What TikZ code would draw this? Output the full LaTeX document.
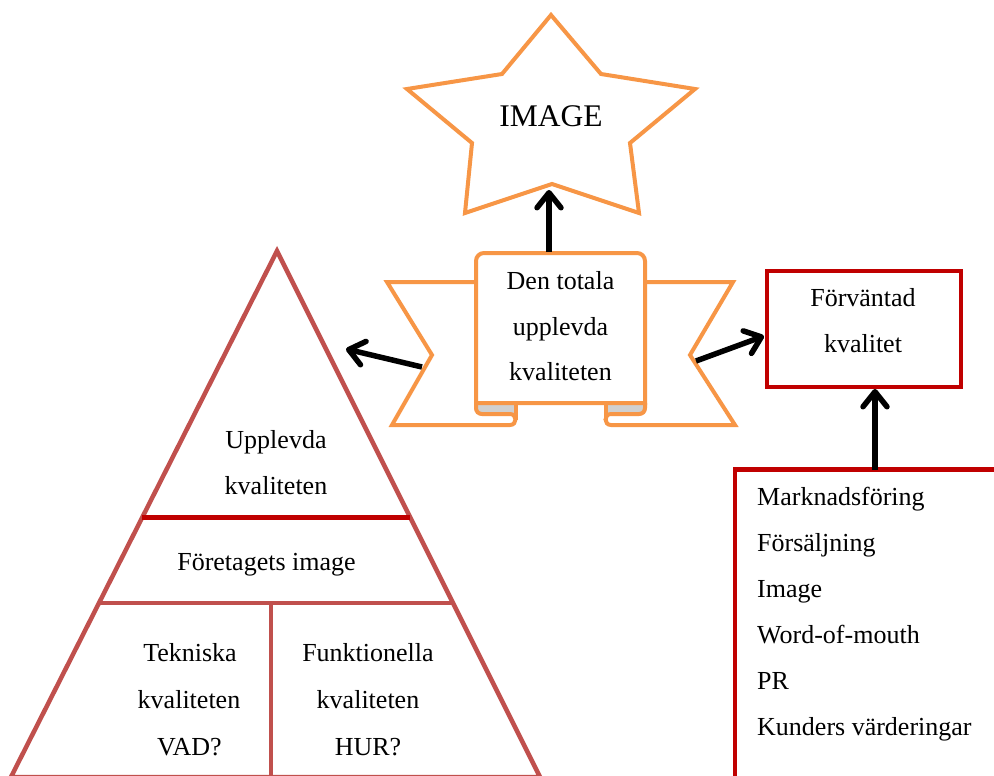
\documentclass[tikz,border=0pt]{standalone}
\usepackage{fontspec}
\setmainfont{Liberation Serif}
\usetikzlibrary{arrows.meta}
\definecolor{orng}{HTML}{F79646}
\definecolor{pyr}{HTML}{C0504D}
\definecolor{dred}{HTML}{C00000}
\definecolor{rollgrey}{HTML}{D0D0D0}
\begin{document}
\begin{tikzpicture}[x=1pt,y=-1pt,
 txt/.style={font=\fontsize{26}{46}\selectfont, anchor=base, inner sep=0pt},
 ltxt/.style={txt, anchor=base west},
 oline/.style={draw=orng, line width=4pt, line join=miter},
 pyrline/.style={draw=pyr, line width=4.5pt},
 redline/.style={draw=dred, line width=4.5pt},
 arr/.style={draw=black, line width=5.5pt, -{Straight Barb[length=15pt,width=24pt,round]}},
]
\useasboundingbox (0,0) rectangle (994,776);

% ---------------- star ----------------
\draw[oline, fill=white] (551,15) -- (601,74) -- (695,89) -- (630,143) -- (639,213)
  -- (552,184) -- (465,213) -- (472,143) -- (407,89) -- (502,74) -- cycle;
\node[txt, font=\fontsize{31.5}{36}\selectfont] (image) at (551,126) {IMAGE};

% ---------------- pyramid ----------------
\draw[pyrline, line join=miter] (277,251) -- (11,777) -- (540,777) -- cycle;
\draw[pyrline] (99.7,603) -- (453,603);
\draw[pyrline] (271,603) -- (271,777);
\draw[draw=dred, line width=5pt] (142.2,517.5) -- (410.2,517.5);
\node[txt] (p1a) at (276,448) {Upplevda};
\node[txt] (p1b) at (276,494) {kvaliteten};
\node[txt] (p2) at (266.5,570) {Företagets image};
\node[txt] (p3a) at (190,661.7) {Tekniska};
\node[txt] (p3b) at (189,708) {kvaliteten};
\node[txt] (p3c) at (189.5,755) {VAD?};
\node[txt] (p4a) at (368,661.7) {Funktionella};
\node[txt] (p4b) at (368,708) {kvaliteten};
\node[txt] (p4c) at (368,755) {HUR?};

% ---------------- ribbon ----------------
% wings (white fill)
\fill[white] (476,282) -- (387,282) -- (432,355) -- (392,425) -- (510,425) -- (515.5,403) -- (476,403) -- cycle;
\fill[white] (645,282) -- (733,282) -- (690,355) -- (735,425) -- (611,425) -- (605.5,403) -- (645,403) -- cycle;
% grey backs of the rolls
\fill[rollgrey] (476,403) -- (476,408) .. controls (476,411.5) and (478.5,414) .. (482,414) -- (510,414)
  .. controls (513,414) and (515.5,416.5) .. (515.5,419.5) -- (515.5,403) -- cycle;
\fill[rollgrey] (645,403) -- (645,408) .. controls (645,411.5) and (642.5,414) .. (639,414) -- (611,414)
  .. controls (608,414) and (605.5,416.5) .. (605.5,419.5) -- (605.5,403) -- cycle;
% wing outlines
\draw[oline, line cap=round] (476,282) -- (387,282) -- (432,355) -- (392,425) -- (510,425)
  .. controls (517.3,425) and (517.3,414) .. (510,414) -- (482,414)
  .. controls (478.5,414) and (476,411.5) .. (476,408) -- (476,403);
\draw[oline] (515.5,403) -- (515.5,419.5);
\draw[oline, line cap=round] (645,282) -- (733,282) -- (690,355) -- (735,425) -- (611,425)
  .. controls (603.7,425) and (603.7,414) .. (611,414) -- (639,414)
  .. controls (642.5,414) and (645,411.5) .. (645,408) -- (645,403);
\draw[oline] (605.5,403) -- (605.5,419.5);
% central panel
\draw[oline, fill=white] (476,403) [rounded corners=8] -- (476,253) -- (645,253) [sharp corners] -- (645,403) -- cycle;
\node[txt] (r1) at (560.5,289) {Den totala};
\node[txt] (r2) at (560.5,335) {upplevda};
\node[txt] (r3) at (560.5,380.5) {kvaliteten};

% ---------------- expected quality box ----------------
\node[redline, minimum width=194pt, minimum height=116pt, inner sep=0pt] (fbox) at (864,329) {};
\node[txt] (f1) at (863,306.7) {Förväntad};
\node[txt] (f2) at (863,352.7) {kvalitet};

% ---------------- factor list box ----------------
\draw[redline, line join=miter] (998,469.5) -- (735,469.5) -- (735,780);
\node[ltxt] (l1) at (757,505) {Marknadsföring};
\node[ltxt] (l2) at (757,551.5) {Försäljning};
\node[ltxt] (l3) at (757,597) {Image};
\node[ltxt] (l4) at (757,643) {Word-of-mouth};
\node[ltxt] (l5) at (757,689) {PR};
\node[ltxt] (l6) at (757,735) {Kunders värderingar};

% ---------------- arrows ----------------
\coordinate (ribtop) at (549,252);
\coordinate (starbot) at (549,190);
\coordinate (ribleft) at (422,367);
\coordinate (pyrright) at (346,349);
\coordinate (ribright) at (696,361);
\coordinate (fboxleft) at (764,336);
\coordinate (listtop) at (875,470);
\coordinate (fboxbot) at (875,389);
\draw[arr] (ribtop) -- (starbot);
\draw[arr] (ribleft) -- (pyrright);
\draw[arr] (ribright) -- (fboxleft);
\draw[arr] (listtop) -- (fboxbot);
\end{tikzpicture}
\end{document}
